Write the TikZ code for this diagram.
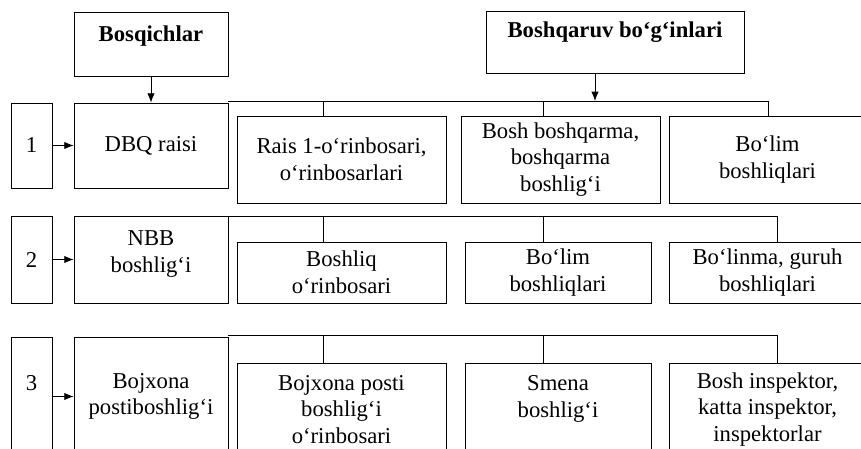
\documentclass[tikz,border=0pt]{standalone}
\usepackage{fontspec}
\setmainfont{Liberation Serif}
\usepackage{tikz}
\usetikzlibrary{arrows.meta}

\tikzset{
    txt/.style={inner sep=0pt, align=center, font=\fontsize{17}{20}\selectfont},
    box/.style={txt, draw, line width=0.6pt},
    headtxt/.style={txt, font=\fontsize{17}{20}\selectfont\bfseries},
    arr/.style={-{Latex[length=7pt,width=5.5pt]}},
}

\begin{document}
\begin{tikzpicture}[x=0.75pt, y=-0.75pt, line width=0.6pt]
    \useasboundingbox (0,0) rectangle (861,449);
    \clip (0,0) rectangle (861,449);

    % headers
    \node[box, minimum width=115.5pt, minimum height=48pt] (bosq) at (151,44) {};
    \node[headtxt] (bosqt) at ([yshift=6pt]bosq.center) {Bosqichlar};
    \node[box, minimum width=193.5pt, minimum height=46.5pt] (boshq) at (615,42) {};
    \node[headtxt] (boshqt) at ([yshift=7.5pt]boshq.center) {Boshqaruv bo‘g‘inlari};

    % stage numbers
    \node[box, minimum width=30.75pt, minimum height=63.75pt] (n1) at (31.5,145.5) {1};
    \node[box, minimum width=30.75pt, minimum height=65.25pt] (n2) at (31.5,259.5) {2};
    \node[box, minimum width=30.75pt, minimum height=89.25pt] (n3) at (31.5,396.5) {};
    \node[txt] (n3t) at ([yshift=10pt]n3.center) {3};

    % stage heads
    \node[box, minimum width=115.5pt, minimum height=63.75pt] (dbq) at (151,145.5) {DBQ raisi};
    \node[box, minimum width=115.5pt, minimum height=65.25pt] (nbb) at (151,259.5) {};
    \node[txt] (nbbt) at ([yshift=4pt]nbb.center) {NBB\\ boshlig‘i};
    \node[box, minimum width=115.5pt, minimum height=89.25pt] (bojx) at (151,396.5) {Bojxona\\ postiboshlig‘i};

    % row 1
    \node[box, minimum width=156.75pt, minimum height=65.25pt] (rais) at (341.5,159.5) {Rais 1-o‘rinbosari,\\ o‘rinbosarlari};
    \node[box, minimum width=149.25pt, minimum height=65.25pt] (boshb) at (560.5,159.5) {Bosh boshqarma,\\ boshqarma\\ boshlig‘i};
    \node[box, minimum width=147.75pt, minimum height=65.25pt] (bolim1) at (767.5,159.5) {Bo‘lim\\ boshliqlari};

    % row 2
    \node[box, minimum width=156.75pt, minimum height=45.75pt] (bosliq) at (341.5,272.5) {Boshliq\\ o‘rinbosari};
    \node[box, minimum width=139.5pt, minimum height=45.75pt] (bolim2) at (558,272.5) {Bo‘lim\\ boshliqlari};
    \node[box, minimum width=147.75pt, minimum height=45.75pt] (bolinma) at (767.5,272.5) {Bo‘linma, guruh\\ boshliqlari};

    % row 3
    \node[box, minimum width=156.75pt, minimum height=69.75pt] (postorin) at (341.5,409.5) {Bojxona posti\\ boshlig‘i\\ o‘rinbosari};
    \node[box, minimum width=139.5pt, minimum height=69.75pt] (smena) at (558,409.5) {};
    \node[txt] (smenat) at ([yshift=8pt]smena.center) {Smena\\ boshlig‘i};
    \node[box, minimum width=147.75pt, minimum height=69.75pt] (insp) at (767.5,409.5) {Bosh inspektor,\\ katta inspektor,\\ inspektorlar};

    % arrows from numbers and headers
    \draw[arr] (n1) -- (dbq);
    \draw[arr] (n2) -- (nbb);
    \draw[arr] (n3) -- (bojx);
    \draw[arr] (bosq) -- (dbq);

    % bus 1
    \coordinate (bus1a) at (228,101);
    \coordinate (bus1b) at (768,101);
    \coordinate (t1a) at (323,101);
    \coordinate (t1b) at (543,101);
    \coordinate (t1c) at (595,101);
    \draw (bus1a) -- (bus1b) -- (bolim1.north -| bus1b);
    \draw (t1a) -- (rais.north -| t1a);
    \draw (t1b) -- (boshb.north -| t1b);
    \draw[arr] (boshq.south -| t1c) -- (t1c);

    % bus 2
    \coordinate (bus2a) at (228,216);
    \coordinate (bus2b) at (777,216);
    \coordinate (t2a) at (323,216);
    \coordinate (t2b) at (543,216);
    \draw (bus2a) -- (bus2b) -- (bolinma.north -| bus2b);
    \draw (t2a) -- (bosliq.north -| t2a);
    \draw (t2b) -- (bolim2.north -| t2b);

    % bus 3
    \coordinate (bus3a) at (228,335);
    \coordinate (bus3b) at (777,335);
    \coordinate (t3a) at (323,335);
    \coordinate (t3b) at (543,335);
    \draw (bus3a) -- (bus3b) -- (insp.north -| bus3b);
    \draw (t3a) -- (postorin.north -| t3a);
    \draw (t3b) -- (smena.north -| t3b);
\end{tikzpicture}
\end{document}
